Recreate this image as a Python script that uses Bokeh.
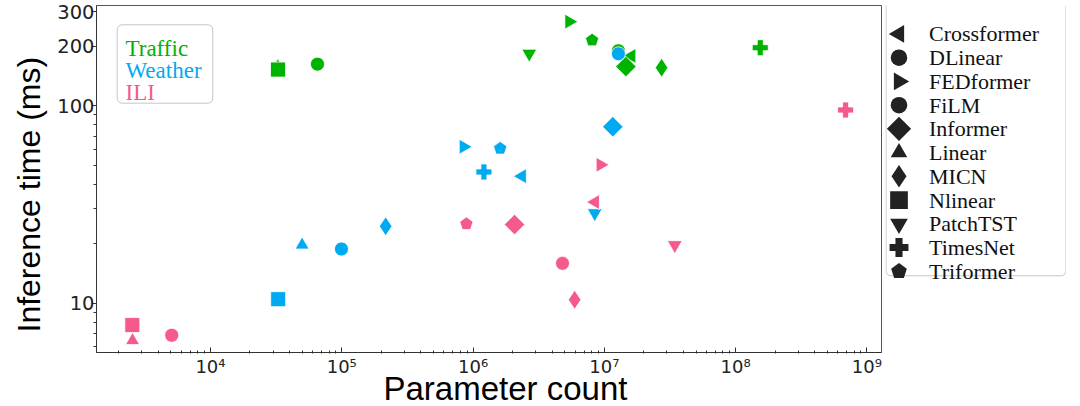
import math
from bokeh.plotting import figure
from bokeh.models import (Range1d, FixedTicker, CustomJSTickFormatter, Label,
                          BoxAnnotation, ColumnDataSource, Title)
from bokeh.layouts import row
from bokeh.embed import file_html
from bokeh.resources import INLINE
from bokeh.core.properties import value

# ---------------- data ----------------
MODELS = ["Crossformer", "DLinear", "FEDformer", "FiLM", "Informer", "Linear",
          "MICN", "Nlinear", "PatchTST", "TimesNet", "Triformer"]

DATASETS = ["Traffic", "Weather", "ILI"]

TRAFFIC_PARAMS = [1.61e7, 6.53e4, 5.4e6, 1.28e7, 1.46e7, 3.26e4, 2.73e7, 3.27e4, 2.68e6, 1.54e8, 8.07e6]
TRAFFIC_TIME = [179, 162.6, 267, 190, 158, 158, 156, 152.6, 184, 197, 215]

WEATHER_PARAMS = [2.36e6, 9.95e4, 8.47e5, 1.28e7, 1.16e7, 4.99e4, 2.16e5, 3.28e4, 8.45e6, 1.21e6, 1.61e6]
WEATHER_TIME = [44.0, 18.8, 62.0, 183.5, 78.3, 19.7, 24.5, 10.47, 28.6, 46.2, 60.8]

ILI_PARAMS = [8.5e6, 5.07e3, 9.35e6, 4.8e6, 2.07e6, 2.55e3, 5.94e6, 2.54e3, 3.44e7, 6.88e8, 8.9e5]
ILI_TIME = [32.5, 6.87, 50.2, 15.9, 25.0, 6.46, 10.4, 7.74, 19.7, 95.2, 25.2]

X_TICKS = [1e4, 1e5, 1e6, 1e7, 1e8, 1e9]
X_TICK_LABELS = ["10\u2074", "10\u2075", "10\u2076", "10\u2077", "10\u2078", "10\u2079"]
X_MINOR_TICKS = [m * 10.0 ** e for e in range(3, 10) for m in range(2, 10)]
Y_TICKS = [10, 100, 200, 300]
Y_TICK_LABELS = ["10", "100", "200", "300"]
Y_MINOR_TICKS = [6, 7, 8, 9, 20, 30, 40, 50, 60, 70, 80, 90]

X_TITLE = "Parameter count"
Y_TITLE = "Inference time (ms)"

# ---------------- style ----------------
COLORS = {"Traffic": "#00b300", "Weather": "#00aaf0", "ILI": "#f45b8a"}
# marker, angle, size (plot)
STYLE = {
    "Crossformer": ("triangle", math.pi / 2, 15),
    "DLinear": ("circle", 0.0, 14),
    "FEDformer": ("triangle", -math.pi / 2, 15),
    "FiLM": ("circle", 0.0, 14),
    "Informer": ("square", math.pi / 4, 14.5),
    "Linear": ("triangle", 0.0, 14),
    "MICN": ("diamond", 0.0, 19),
    "Nlinear": ("square", 0.0, 15),
    "PatchTST": ("inverted_triangle", 0.0, 15),
    "TimesNet": ("plus", 0.0, 16),
    "Triformer": ("pentagon", 0.0, 7),
}
PENT_ANGLE = 0.0

SANS = "Liberation Sans"
SERIF = "Liberation Serif"
TICKF = "DejaVu Sans"

W, H = 885, 406
ML, MR, MT, MB = 96, 4, 5, 54
FRAME_H = H - MT - MB

p = figure(width=W, height=H, x_axis_type="log", y_axis_type="log",
           x_range=Range1d(10 ** 3.132, 10 ** 9.111),
           y_range=Range1d(10 ** 0.7496, 10 ** 2.5083),
           output_backend="svg", toolbar_location=None,
           min_border_left=ML, min_border_right=MR,
           min_border_top=MT, min_border_bottom=MB)
p.xgrid.visible = False
p.ygrid.visible = False
p.outline_line_color = "#555555"
p.outline_line_width = 1
p.background_fill_color = "white"
p.border_fill_color = "white"

fmt_code = """
for (let i = 0; i < tv.length; i++) {
  if (Math.abs(Math.log10(tick) - Math.log10(tv[i])) < 1e-6) return tl[i];
}
return "";
"""
xa = p.xaxis[0]
xa.ticker = FixedTicker(ticks=X_TICKS, minor_ticks=X_MINOR_TICKS)
xa.formatter = CustomJSTickFormatter(args=dict(tv=X_TICKS, tl=X_TICK_LABELS), code=fmt_code)
xa.major_label_text_font = TICKF
xa.major_label_text_font_size = "18px"
xa.major_label_text_color = "#222222"
xa.major_tick_in = 5
xa.major_tick_out = 0
xa.minor_tick_in = 2
xa.minor_tick_out = 1
xa.major_label_standoff = 2
xa.axis_line_color = "#333333"
xa.major_tick_line_color = "#333333"
xa.minor_tick_line_color = "#333333"

ya = p.yaxis[0]
ya.ticker = FixedTicker(ticks=Y_TICKS, minor_ticks=Y_MINOR_TICKS)
ya.formatter = CustomJSTickFormatter(args=dict(tv=Y_TICKS, tl=Y_TICK_LABELS), code=fmt_code)
ya.major_label_text_font = TICKF
ya.major_label_text_font_size = "19.5px"
ya.major_label_text_color = "#222222"
ya.major_tick_in = 0
ya.major_tick_out = 5
ya.minor_tick_in = 0
ya.minor_tick_out = 3
ya.major_label_standoff = -3
ya.axis_line_color = "#333333"
ya.major_tick_line_color = "#333333"
ya.minor_tick_line_color = "#333333"

# axis titles as side-panel titles
p.add_layout(Title(text=X_TITLE, align="left", offset=287, standoff=-23,
                   text_font=SANS, text_font_size="33px", text_font_style="normal",
                   text_color="#000000"), "below")
p.add_layout(Title(text=Y_TITLE, align="left", offset=20, standoff=16,
                   text_font=SANS, text_font_size="32px", text_font_style="normal",
                   text_color="#000000"), "left")


def draw_pentagons(fig, xs, ys, radius, color, line_color, line_width):
    ok = False
    if hasattr(fig, "ngon"):
        try:
            fig.ngon(x=xs, y=ys, radius=radius, radius_units="screen", n=5,
                     angle=PENT_ANGLE, fill_color=color, line_color=line_color,
                     line_width=line_width)
            ok = True
        except Exception:
            ok = False
    if not ok:
        fig.scatter(x=xs, y=ys, marker="hex", size=2 * radius, fill_color=color,
                    line_color=line_color, line_width=line_width)


DATA = {
    "Traffic": (TRAFFIC_PARAMS, TRAFFIC_TIME),
    "Weather": (WEATHER_PARAMS, WEATHER_TIME),
    "ILI": (ILI_PARAMS, ILI_TIME),
}

for ds in DATASETS:
    xs, ys = DATA[ds]
    col = COLORS[ds]
    idx = [i for i, m in enumerate(MODELS) if STYLE[m][0] != "pentagon"]
    src = ColumnDataSource(dict(
        x=[xs[i] for i in idx], y=[ys[i] for i in idx],
        marker=[STYLE[MODELS[i]][0] for i in idx],
        angle=[STYLE[MODELS[i]][1] for i in idx],
        size=[STYLE[MODELS[i]][2] for i in idx],
    ))
    p.scatter("x", "y", source=src, marker="marker", angle="angle", size="size",
              fill_color=col, line_color="white", line_width=0.8)
    pidx = [i for i, m in enumerate(MODELS) if STYLE[m][0] == "pentagon"]
    draw_pentagons(p, [xs[i] for i in pidx], [ys[i] for i in pidx],
                   STYLE["Triformer"][2], col, "white", 0.8)

# inset dataset legend (top-left), frame-relative screen units
p.add_layout(BoxAnnotation(left=20.7, right=116.3, top=FRAME_H - 19.3, bottom=FRAME_H - 97.7,
                           left_units="screen", right_units="screen",
                           top_units="screen", bottom_units="screen",
                           fill_color="white", fill_alpha=1.0, line_color="#444444",
                           line_width=1, border_radius=5, level="underlay"))
for k, ds in enumerate(DATASETS):
    p.add_layout(Label(x=29, y=FRAME_H - (42.7 + 22.3 * k), x_units="screen", y_units="screen",
                       text=ds, text_align="left", text_baseline="alphabetic",
                       text_font=SERIF, text_font_size="23px", text_color=COLORS[ds]))

# ---------------- model legend (separate panel) ----------------
LW, LH = 181, H
STEP = 27.76
TOP0 = 33.3
lg = figure(width=LW, height=LH, x_range=Range1d(-13.5, LW - 13.5),
            y_range=Range1d((LH - TOP0) / STEP, -TOP0 / STEP),
            output_backend="svg", toolbar_location=None, min_border=0,
            x_axis_location=None, y_axis_location=None)
lg.xgrid.visible = False
lg.ygrid.visible = False
lg.outline_line_color = None
lg.background_fill_color = "white"
lg.border_fill_color = "white"
lg.add_layout(BoxAnnotation(left=0.5, right=LW - 0.5, top=LH - 17.3, bottom=LH - 329.3,
                            left_units="screen", right_units="screen",
                            top_units="screen", bottom_units="screen",
                            fill_color="white", fill_alpha=1.0, line_color="#444444",
                            line_width=1, border_radius=5, level="underlay"))

rows = list(range(len(MODELS)))
lidx = [i for i, m in enumerate(MODELS) if STYLE[m][0] != "pentagon"]
lsrc = ColumnDataSource(dict(
    x=[0.0 for _ in lidx], y=[rows[i] for i in lidx],
    marker=[STYLE[MODELS[i]][0] for i in lidx],
    angle=[STYLE[MODELS[i]][1] for i in lidx],
    size=[STYLE[MODELS[i]][2] * 1.18 for i in lidx],
))
lg.scatter("x", "y", source=lsrc, marker="marker", angle="angle", size="size",
           fill_color="#222222", line_color=None)
lp = [i for i, m in enumerate(MODELS) if STYLE[m][0] == "pentagon"]
draw_pentagons(lg, [0.0 for _ in lp], [rows[i] for i in lp], STYLE["Triformer"][2] * 1.18,
               "#222222", None, 0)
lg.text(x=[0.0] * len(MODELS), y=rows, text=MODELS, x_offset=30,
        text_baseline="middle", text_align="left",
        text_font=value(SERIF), text_font_size="22px", text_color="#111111")

layout = row(p, lg)
open("out.html", "w").write(file_html(layout, INLINE))
